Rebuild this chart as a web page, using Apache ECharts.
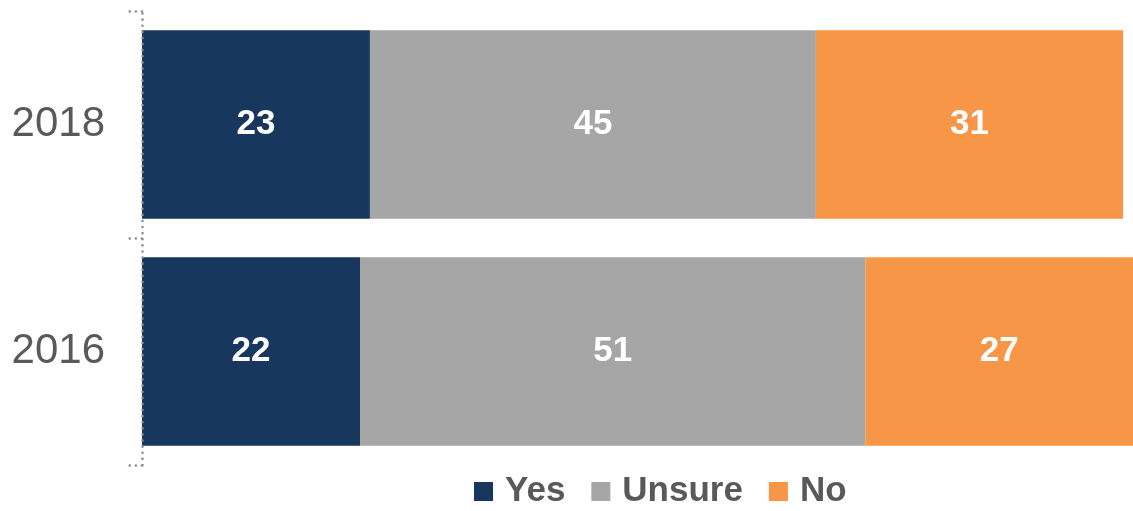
<!DOCTYPE html>
<html>
<head>
<meta charset="utf-8">
<script src="https://cdn.jsdelivr.net/npm/echarts@6/dist/echarts.min.js"></script>
<style>
  html, body { margin: 0; padding: 0; background: #ffffff; }
  #chart { width: 1133px; height: 511px; }
</style>
</head>
<body>
<div id="chart"></div>
<script>
// Survey years, listed bottom to top as the category axis draws them
const years = ['2016', '2018'];
const seriesNames = ['Yes', 'Unsure', 'No'];
const yesValues = [22, 23];
const unsureValues = [51, 45];
const noValues = [27, 31];

const colors = {
  Yes: '#17375e',
  Unsure: '#a6a6a6',
  No: '#f79646'
};

const valuesByName = { Yes: yesValues, Unsure: unsureValues, No: noValues };

const chart = echarts.init(document.getElementById('chart'), null, { renderer: 'canvas' });

const series = seriesNames.map(name => ({
  name: name,
  type: 'bar',
  stack: 'total',
  barCategoryGap: '17%',
  data: valuesByName[name],
  itemStyle: { color: colors[name] },
  label: {
    show: true,
    position: 'inside',
    color: '#ffffff',
    fontFamily: 'Liberation Sans, Arial, sans-serif',
    fontWeight: 'bold',
    fontSize: 35
  },
  emphasis: { disabled: true }
}));

// Dotted style shared by the axis line and its ticks
const dotted = { color: '#8c8c8c', width: 2.5, type: [0.1, 6], cap: 'round' };

chart.setOption({
  animation: false,
  grid: { left: 142, right: 0, top: 11, bottom: 46, containLabel: false },
  xAxis: {
    type: 'value',
    min: 0,
    max: 100,
    show: false
  },
  yAxis: {
    type: 'category',
    data: years,
    z: 10,
    axisLine: { show: true, lineStyle: dotted },
    axisTick: { show: true, length: 14, lineStyle: dotted },
    axisLabel: {
      margin: 37,
      color: '#595959',
      fontFamily: 'Liberation Sans, Arial, sans-serif',
      fontSize: 42
    },
    splitLine: { show: false }
  },
  legend: {
    data: seriesNames,
    left: 469,
    top: 469,
    itemWidth: 19,
    itemHeight: 19,
    itemGap: 26,
    icon: 'rect',
    selectedMode: false,
    textStyle: {
      color: '#595959',
      fontFamily: 'Liberation Sans, Arial, sans-serif',
      fontWeight: 'bold',
      fontSize: 35,
      padding: [0, 0, 0, 7]
    }
  },
  series: series
});
</script>
</body>
</html>
